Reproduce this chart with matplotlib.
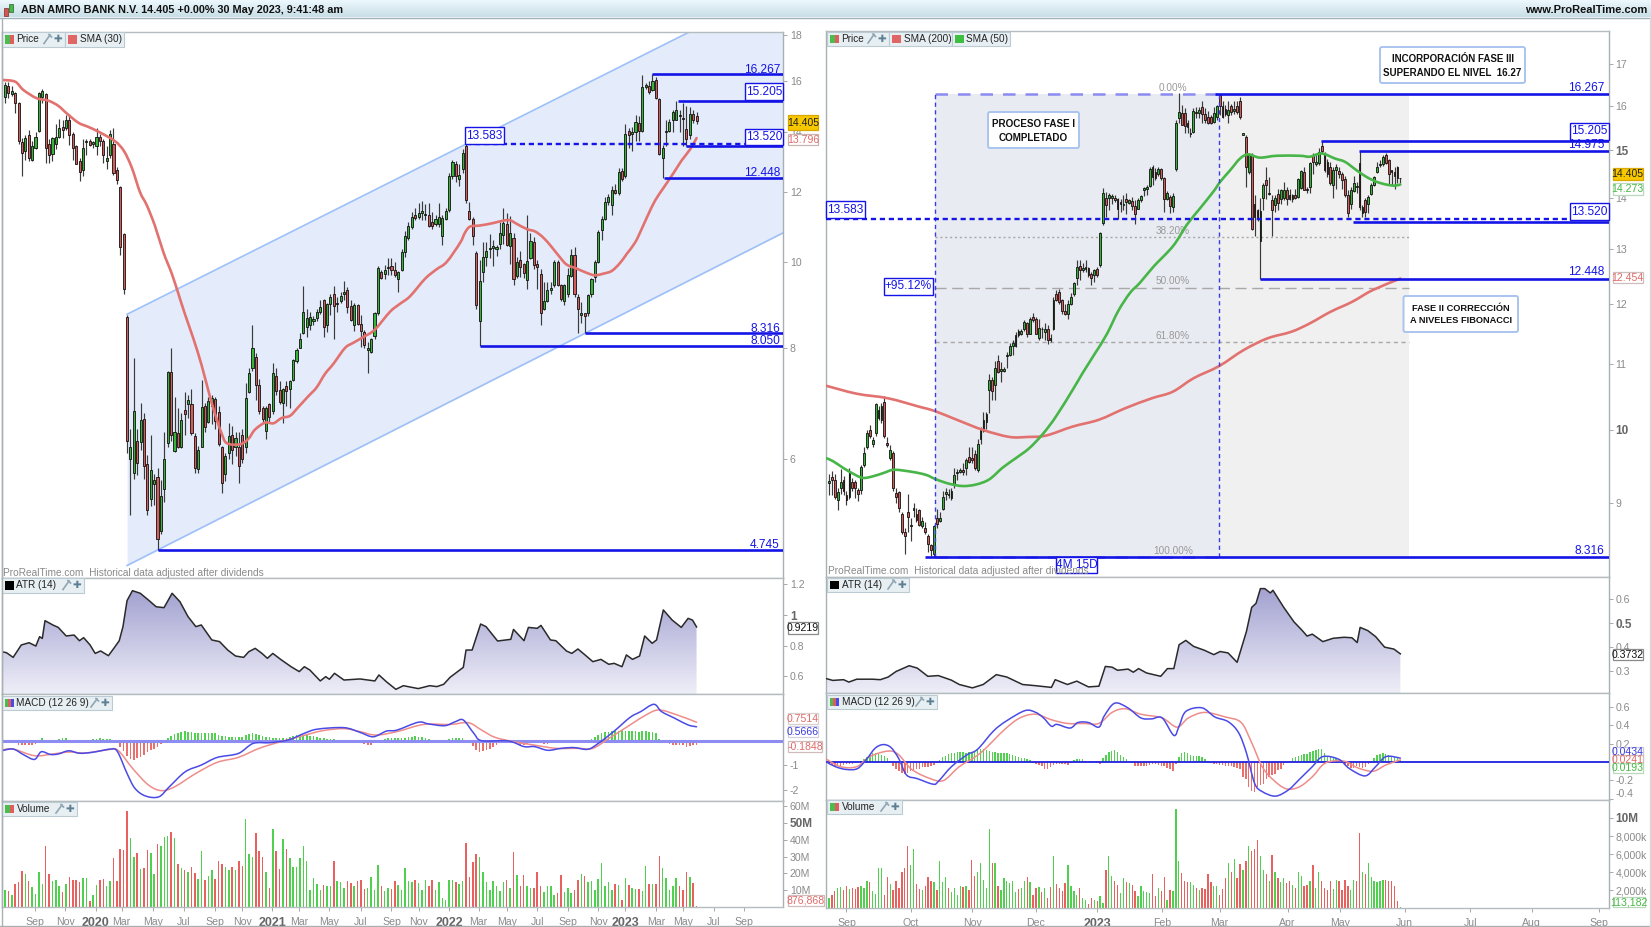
import numpy as np
import matplotlib
matplotlib.use("Agg")
import matplotlib.pyplot as plt
from matplotlib.colors import LinearSegmentedColormap
from matplotlib.patches import Rectangle, FancyBboxPatch, Polygon, PathPatch
from matplotlib.path import Path

plt.rcParams['font.family'] = ['Liberation Sans', 'DejaVu Sans']

W, H = 1651, 927

# ---------- weekly chart (left) ----------
open_w = [15.36,15.80,15.45,15.50,15.10,13.65,13.35,13.90,13.05,13.45,
 14.05,15.35,15.45,13.60,13.25,13.60,13.85,14.20,14.15,14.45,
 13.95,13.50,13.00,12.70,13.65,13.70,13.60,13.50,13.85,13.68,
 13.00,13.20,13.60,12.70,12.15,10.75,8.68,6.00,5.80,6.30,
 6.28,6.67,5.93,5.42,5.63,5.74,4.98,5.56,6.26,7.53,
 6.13,6.42,6.20,6.82,6.93,6.93,6.37,5.85,6.20,6.89,
 6.62,6.90,7.02,6.79,6.20,5.78,6.10,6.40,6.20,6.20,
 6.40,6.20,7.15,7.60,7.83,7.27,6.85,6.46,6.92,6.80,
 7.44,7.18,6.95,7.25,7.20,7.38,7.75,8.00,8.32,8.45,
 8.50,8.60,8.65,8.80,9.07,8.49,8.97,9.20,8.97,9.05,
 9.20,9.30,8.93,8.49,8.95,8.53,8.35,7.97,7.93,8.26,
 8.78,9.75,9.70,9.85,9.90,9.80,9.57,9.80,10.28,10.65,
 10.95,11.30,11.25,11.35,11.30,11.30,11.10,11.03,11.04,10.70,
 11.18,11.45,12.50,12.90,12.40,12.75,13.50,11.42,11.20,10.24,
 8.60,9.75,10.14,10.35,10.38,10.35,10.48,10.74,11.03,10.42,
 10.65,9.65,10.06,9.96,9.56,10.12,10.53,9.96,9.70,8.85,
 9.05,9.30,9.42,10.02,9.42,9.05,9.20,9.66,10.18,9.15,
 8.72,8.76,8.77,9.20,9.62,10.00,10.88,11.20,11.70,11.60,
 12.05,11.97,12.67,12.50,14.05,13.93,14.00,14.33,14.05,15.75,
 15.80,15.62,16.05,15.25,13.10,14.00,14.05,14.47,14.47,14.65,
 14.55,14.13,13.90,14.70,14.60]
high_w = [15.97,15.95,15.80,15.55,15.15,13.80,13.90,14.10,13.70,14.00,
 15.55,15.65,15.50,13.75,13.85,14.30,14.50,14.45,14.65,14.70,
 14.00,13.55,13.10,13.75,13.75,13.75,13.70,14.15,13.95,13.75,
 13.50,14.10,14.15,12.80,12.20,10.80,8.72,6.50,7.80,6.50,
 6.95,6.76,6.07,6.40,5.78,5.87,5.69,6.45,7.55,8.00,
 7.05,6.85,6.76,7.15,7.10,7.20,6.42,6.22,7.38,6.95,
 7.05,7.10,7.05,6.90,6.22,6.10,6.60,6.55,6.45,6.45,
 6.50,7.32,7.60,8.50,7.90,7.40,6.90,6.90,6.95,7.70,
 7.60,7.35,7.22,7.35,7.37,7.78,8.00,8.32,9.40,8.85,
 8.80,8.70,8.85,9.07,9.10,8.99,9.20,9.40,9.15,9.25,
 9.53,9.38,9.07,9.00,8.98,8.72,8.40,8.14,8.22,8.80,
 9.90,9.80,9.92,10.10,10.10,10.00,9.78,10.35,10.85,11.10,
 11.40,11.50,11.67,11.72,11.62,11.65,11.40,11.30,11.67,11.30,
 11.50,12.60,13.05,13.00,12.90,13.40,13.58,11.70,11.25,10.30,
 10.05,10.55,10.55,10.75,10.60,10.47,11.10,11.50,11.37,11.27,
 10.80,10.13,10.30,9.98,11.30,10.80,10.67,10.05,9.83,9.50,
 9.50,9.50,10.05,10.05,9.45,9.45,9.85,10.35,10.40,9.20,
 9.02,8.77,9.22,9.60,10.05,10.88,11.28,11.85,11.95,12.18,
 12.25,12.78,12.78,14.30,14.15,14.20,14.65,14.60,16.25,15.90,
 15.98,16.267,16.18,15.30,13.55,14.45,14.50,14.82,15.205,14.85,
 15.10,15.00,14.95,14.85,14.75]
low_w = [15.10,15.30,15.40,14.74,13.60,12.50,13.05,13.00,13.00,13.40,
 14.00,15.10,12.95,12.95,13.00,13.40,13.80,13.80,14.10,13.55,
 13.05,12.90,12.35,12.50,13.20,13.50,13.45,13.20,13.50,12.95,
 12.75,13.10,12.55,12.25,10.20,9.20,6.10,5.20,5.70,5.77,
 6.15,5.70,5.20,5.32,5.33,4.745,4.95,5.38,6.20,6.30,
 6.12,6.18,6.18,6.40,6.68,6.40,5.80,5.80,6.20,6.45,
 6.60,6.58,6.50,6.22,5.50,5.68,6.00,5.93,6.05,5.65,
 5.95,6.10,7.12,7.55,7.00,6.75,6.62,6.33,6.60,6.75,
 7.10,6.92,6.60,6.90,6.85,7.35,7.70,8.00,8.30,8.25,
 8.40,8.50,8.60,8.75,8.25,8.35,8.72,8.20,8.80,9.00,
 9.07,8.76,8.60,8.37,8.50,8.02,8.00,7.50,7.90,8.20,
 8.72,9.58,9.58,9.68,9.68,9.62,9.25,9.78,10.15,10.60,
 10.90,11.15,11.20,11.15,11.15,10.95,10.90,11.00,10.95,10.45,
 11.15,11.40,12.40,12.30,12.20,12.60,11.65,11.15,10.45,8.85,
 8.05,9.50,9.90,10.10,9.90,10.17,10.35,10.48,10.42,9.96,
 9.42,9.60,9.62,9.60,9.33,10.08,9.83,9.33,8.50,8.83,
 9.02,9.22,9.38,9.40,9.05,8.95,9.15,9.62,9.15,8.32,
 8.55,8.316,8.70,9.15,9.50,9.98,10.60,11.15,11.60,11.30,
 11.95,11.90,12.35,12.45,13.45,13.35,13.70,13.70,14.02,15.65,
 15.45,15.58,15.25,13.20,12.448,13.50,14.02,14.00,14.45,14.00,
 13.50,13.52,13.75,14.35,14.30]
close_w = [15.85,15.50,15.60,15.10,13.70,13.26,13.80,13.10,13.50,13.85,
 15.50,15.60,13.45,13.20,13.80,13.85,14.15,14.10,14.45,13.90,
 13.45,12.90,12.65,13.45,13.70,13.55,13.65,13.85,13.70,13.20,
 13.10,13.95,12.60,12.38,10.41,9.33,6.30,6.20,6.80,5.95,
 6.65,5.90,5.27,5.84,5.69,4.88,5.46,6.00,7.52,6.39,
 6.45,6.20,6.65,6.75,7.00,6.42,5.87,6.15,6.88,6.53,
 6.98,7.03,6.63,6.25,5.65,6.06,6.38,6.15,6.35,5.90,
 6.00,7.03,7.50,8.00,7.27,6.80,6.66,6.85,6.70,7.50,
 7.17,6.96,7.20,7.17,7.35,7.76,7.97,8.20,8.80,8.65,
 8.67,8.63,8.80,8.91,8.45,8.97,9.13,8.93,9.00,9.17,
 9.27,8.91,8.62,8.95,8.53,8.38,8.07,8.00,8.20,8.78,
 9.85,9.60,9.80,9.87,9.80,9.68,9.75,10.28,10.70,11.00,
 11.25,11.23,11.35,11.42,11.33,10.98,11.00,11.20,11.25,11.23,
 11.42,12.50,12.98,12.50,12.55,13.28,11.75,11.18,10.71,8.95,
 9.52,10.14,10.30,10.39,10.42,10.40,10.80,11.08,10.47,10.80,
 9.57,10.00,9.87,9.73,10.03,10.57,9.93,9.87,8.77,9.05,
 9.30,9.35,10.00,9.42,9.10,9.42,9.68,10.20,9.20,8.85,
 8.78,8.70,9.19,9.58,10.00,10.83,11.20,11.70,11.85,12.05,
 11.97,12.65,12.40,13.95,13.90,14.03,14.37,14.05,15.74,15.82,
 15.55,15.98,15.30,13.25,13.45,14.05,14.37,14.75,14.85,14.60,
 14.50,13.76,14.67,14.45,14.405]

sma30_bar = [-1,2.95,5.4,9.3,12.8,15.7,18.2,21.6,24.6,28,32.5,35.1,37.4,39.8,41.8,44.2,46.7,49.2,51.1,53.1,55.6,58,60.5,62.4,63.9,65.4,69.3,
 71.8,73.7,76.7,79.2,81.6,84.1,86.5,89.5,91.9,94.4,96.9,100.3,102.8,105.7,109.1,113.6,116.5,119.5,124,127.3,130.3,
 134.2,135.7,137.2,140.1,144,147,149,150.9,153.9,156.4,158.8,161.3,163.7,165.7,168.6,171.6,174,176.5,179,181.4,183.4,185.9,187.8,189.8,191.8,194.2,197.2,199.6,202.1,204]
sma30_val = [16.04,15.97,15.63,15.3,15.2,15.0,14.71,14.36,14.2,14.0,13.68,13.34,12.78,12.0,11.6,11.0,10.27,9.71,9.23,8.74,8.2,7.66,7.05,6.67,6.42,6.26,6.24,
 6.33,6.48,6.6,6.59,6.68,6.72,6.87,7.07,7.23,7.49,7.69,8.01,8.12,8.24,8.40,8.80,8.98,9.16,9.59,9.82,10.01,
 10.51,10.8,10.97,11.0,11.07,11.14,11.15,11.05,10.9,10.83,10.66,10.4,10.13,9.94,9.84,9.73,9.67,9.71,9.78,9.98,10.22,10.53,10.9,11.33,11.74,12.12,12.6,13.02,13.4,13.796]

atr_w_bar = [-1,.4,2.4,4.8,7.1,9.1,10.2,11,11.8,14.1,15.7,18.05,20.4,21.95,23.2,25.1,26.6,28.2,30.5,32.1,33.7,34.8,36,37.6,39.9,42.3,44.6,46.9,49.3,51.6,
 54,56.3,57.9,61,63.3,65.7,68,70.4,71.9,73.8,75.8,77.4,79,81.3,84.4,86.8,88.3,89.9,93,94.6,95.7,97.2,100,104.7,109.1,110.3,112.5,115.3,117.5,121.9,
 125.3,127.4,129.4,131.3,135.2,136,137.8,140.3,141.9,145.3,149.2,150,153.1,154.4,157,158.1,160.9,162.5,165.6,167.2,169,171.1,173.4,175.8,178.1,179.7,
 182,183.3,185.1,187.2,188.7,190.9,192.2,194.2,196.8,199.5,201.5,202.8,204]
atr_w_val = [.760,.754,.723,.804,.819,.797,.858,.847,.963,.935,.919,.863,.869,.832,.852,.804,.749,.765,.734,.782,.832,.924,1.094,1.159,1.142,1.098,1.054,1.048,1.142,1.087,
 .989,.924,.935,.837,.826,.771,.732,.723,.760,.782,.749,.717,.749,.710,.662,.630,.662,.641,.569,.597,.580,.619,.575,.582,.569,.608,.564,.514,.538,.519,
 .538,.532,.547,.593,.658,.771,.771,.941,.924,.830,.841,.906,.832,.919,.913,.932,.837,.832,.765,.749,.778,.739,.695,.710,.678,.684,
 .662,.739,.710,.732,.863,.815,.837,1.033,.967,.919,.978,.967,.9219]

macd_w_bar = [-1,2.4,5.6,8.7,10.7,13.4,15.7,18.8,22,25.9,31.3,33.2,36,38.35,41.5,45.4,48.5,53.2,57.9,62.6,68.8,73.2,78.2,83.6,88.3,92.2,100,104.7,108.6,112.5,115.6,
 121.9,125,129.7,132.8,135.2,138.3,140.6,148.4,153.1,156.2,160.1,164.1,167.9,171.9,175,179.7,184.4,187.5,191.4,193.7,197.6,201.5,204]
macd_w_val = [-.41,-.34,-.58,-.76,-.45,-.56,-.54,-.41,-.51,-.47,-.34,-.45,-1.33,-1.94,-2.25,-2.28,-1.87,-1.26,-.99,-.68,-.52,-.11,-.08,.03,.30,.47,.53,.34,.16,.39,.43,
 .75,.68,.61,.77,.84,.30,0,-.01,-.24,-.24,-.39,-.31,-.28,-.35,-.11,.39,.95,1.18,1.48,1.18,.91,.64,.5666]
signal_w_bar = [-1,2.4,8.7,14.1,18.8,23.5,29.8,33.2,37.6,42.3,46.2,50.1,56.3,62.6,68.8,75,81.3,87.5,93.8,100,104.7,109.4,115.6,123.5,131.3,136.7,140.6,144.5,150,156.2,
 162.5,168.7,173.4,178.1,184.4,189,192.9,198.4,204]
signal_w_val = [-.38,-.34,-.61,-.54,-.46,-.50,-.38,-.38,-1.12,-1.80,-2.03,-1.87,-1.33,-.88,-.68,-.31,-.04,.19,.41,.49,.37,.23,.37,.66,.66,.73,.43,.14,-.04,-.18,
 -.31,-.31,-.31,.09,.64,1.04,1.25,1.04,.7514]
hist_w = [.01,.01,-.04,-.11,-.16,-.19,-.19,-.19,-.19,-.14,.01,.11,.04,.01,.01,.04,.07,.09,.09,.04,
 .01,-.03,-.05,-.03,.01,.04,.07,.08,.09,.08,.07,.05,.03,-.04,-.24,-.41,-.61,-.75,-.77,-.70,
 -.65,-.57,-.45,-.37,-.33,-.24,-.14,-.07,.11,.20,.27,.31,.37,.38,.37,.34,.33,.31,.31,.31,
 .31,.31,.30,.22,.20,.19,.16,.15,.14,.14,.16,.24,.28,.30,.27,.23,.18,.15,.14,.12,
 .11,.11,.11,.11,.14,.19,.22,.24,.24,.22,.20,.19,.16,.12,.09,.08,.07,.05,.04,.03,
 .03,.01,-.03,-.05,-.08,-.11,-.14,-.18,-.16,-.11,-.04,.04,.07,.09,.11,.09,.09,.11,.12,.15,
 .16,.18,.16,.14,.11,.07,.04,-.03,-.04,-.03,.03,.07,.09,.09,.09,.09,.04,-.07,-.20,-.38,
 -.45,-.41,-.37,-.34,-.24,-.16,-.11,-.08,-.04,-.05,-.09,-.14,-.16,-.16,-.14,-.09,-.05,-.05,-.08,-.12,
 -.12,-.11,-.04,-.03,-.01,-.01,.01,.04,.03,-.01,.03,.04,.04,.08,.14,.24,.30,.34,.35,.38,
 .39,.41,.42,.41,.41,.39,.38,.37,.39,.38,.37,.34,.30,.07,-.04,-.11,-.15,-.16,-.18,-.18,
 -.19,-.24,-.20,-.19,-.1848]
vol_w = [10.3,9.3,7.3,13.8,14.6,21.3,19.8,15.2,11.9,7.9,
 20.9,13.8,36.4,19.6,15.2,16.2,12.6,8.7,13.8,17.8,
 16.2,15.8,15,17.2,17.2,3.4,7.3,13.2,15.8,16.6,
 12.3,15.2,29.2,15.2,34.6,34,57.3,41.3,29.6,32,
 22.5,23.1,33.8,32,19.8,37.5,36,41.9,42.5,44.3,
 40.9,25.7,23.1,22.1,21.1,23.7,20.2,16.6,33.4,16.2,
 18.6,22.1,16.6,27.5,25.7,23.7,22.1,23.5,22.1,27.1,
 24.1,52.6,31.6,29.6,43.9,33.4,30,21.1,11.3,46.4,
 33.4,22.5,40.5,34.6,29,23.5,23.5,29,36.4,27.5,
 10.3,17.2,13.8,10.3,13.2,12.3,12.3,27.1,15.2,14.6,
 11.3,15.2,14.0,12.6,15.2,16.2,10.8,11.3,17.8,10.3,
 25.1,12.6,9.3,11.3,10.7,15.2,13.2,10.3,23.1,15.2,
 14.6,15.8,14.2,10.3,15.8,12.6,15.8,10.3,14.6,5.3,
 4.3,16.2,15.8,14.6,13.8,15.2,37.9,17.8,26.9,31.6,
 29.6,20.6,14.6,10.3,15.2,12.3,9.3,14.6,15.8,11.0,
 32.4,18.8,12.3,19.2,12.3,11.3,11.3,21.1,12.3,8.7,
 12.6,12.6,7.3,8.3,19.2,8.7,11.3,8.3,10.3,16.2,
 19.8,18.2,14.6,15.2,10.3,16.8,26.1,12.3,14.6,10.3,
 13.8,13.2,4.3,17.2,13.2,11.3,10.7,10.7,9.5,24.1,
 13.8,13.8,13.8,30.4,23.1,17.2,10.3,12.3,17.2,12.3,
 10.3,21.1,17.8,14.2,.877]
ticks_w = [8.8,17.7,26.8,34.4,43.6,52.7,61.8,70,78.8,86.7,95.7,105,114,122,131,139.7,148,157,166,175,183,192,200,209,218]
labels_w = ['Sep','Nov','2020','Mar','May','Jul','Sep','Nov','2021','Mar','May','Jul','Sep','Nov','2022','Mar','May','Jul','Sep','Nov','2023','Mar','May','Jul','Sep']

# ---------- daily chart (right) ----------
open_d = [9.26,9.34,9.30,9.03,9.20,9.30,9.10,9.08,9.28,9.27,
 9.17,9.17,9.50,9.75,10.00,9.80,9.95,10.18,10.15,10.42,
 9.82,9.60,9.67,9.13,9.14,8.85,8.62,8.88,8.70,8.90,
 8.85,8.90,8.70,8.68,8.57,8.46,8.36,8.80,8.77,8.92,
 9.12,9.12,9.06,9.23,9.39,9.41,9.43,9.47,9.62,9.60,
 9.66,9.44,9.87,9.98,10.12,10.60,10.75,10.67,11.05,10.90,
 10.89,11.13,11.15,11.30,11.30,11.54,11.50,11.57,11.67,11.50,
 11.78,11.75,11.42,11.58,11.53,11.57,11.42,11.58,12.18,12.22,
 12.07,11.89,11.83,12.01,12.18,12.46,12.69,12.61,12.63,12.65,
 12.53,12.52,12.62,12.70,13.50,14.00,13.99,14.00,14.00,13.97,
 13.88,13.85,13.97,13.90,13.94,13.84,13.78,13.95,14.15,14.18,
 14.25,14.63,14.54,14.50,14.59,14.41,13.97,14.02,13.82,14.60,
 15.71,15.83,15.83,15.60,15.36,15.40,15.86,15.84,15.96,15.80,
 15.75,15.75,15.63,15.75,16.25,16.00,15.93,15.78,16.00,15.88,
 16.00,16.10,15.33,15.30,14.53,14.90,13.88,13.76,13.16,14.00,
 14.37,14.07,13.95,13.85,14.08,13.97,14.00,14.17,14.05,13.97,
 14.05,14.02,14.20,14.53,14.18,14.22,14.90,14.71,14.72,15.10,
 14.93,14.75,14.63,14.27,14.57,14.55,14.50,14.38,14.05,13.88,
 14.13,14.24,14.72,13.70,13.95,13.88,14.08,14.26,14.53,14.69,
 14.71,14.90,14.78,14.57,14.53,14.63,14.405]
high_d = [9.38,9.42,9.38,9.20,9.45,9.35,9.15,9.47,9.33,9.30,
 9.20,9.50,9.75,10.00,10.07,9.90,10.40,10.35,10.40,10.50,
 9.90,9.78,9.70,9.20,9.15,8.88,8.68,9.12,8.80,9.00,
 8.93,8.92,8.82,8.75,8.60,8.48,8.72,8.92,8.88,9.15,
 9.20,9.18,9.19,9.47,9.45,9.47,9.53,9.60,9.75,9.75,
 9.72,9.87,10.05,10.27,10.27,10.85,10.80,11.05,11.15,11.03,
 10.95,11.20,11.35,11.40,11.52,11.58,11.58,11.72,11.70,11.78,
 11.85,11.78,11.75,11.61,11.67,11.64,11.50,12.12,12.25,12.27,
 12.09,12.01,12.07,12.19,12.40,12.80,12.80,12.73,12.80,12.67,
 12.57,12.63,12.67,13.33,14.20,14.12,14.10,14.08,14.06,13.99,
 13.98,14.06,14.10,13.98,14.02,13.95,13.99,14.06,14.22,14.27,
 14.65,14.69,14.61,14.65,14.61,14.43,14.13,14.06,14.10,15.67,
 16.29,16.02,15.94,15.67,15.49,15.94,15.98,15.98,16.11,15.94,
 15.87,15.79,15.96,16.02,16.267,16.11,16.02,16.10,16.05,16.10,
 16.10,16.20,15.39,15.33,14.93,14.93,14.05,13.78,14.00,14.30,
 14.64,14.43,14.05,14.05,14.19,14.19,14.33,14.22,14.19,14.08,
 14.19,14.40,14.58,14.64,14.22,14.75,14.93,14.93,15.04,15.205,
 14.97,14.80,14.75,14.64,14.71,14.64,14.53,14.46,14.15,14.22,
 14.46,14.33,14.975,13.85,14.00,14.05,14.30,14.44,14.75,14.79,
 14.90,14.93,14.80,14.58,14.63,14.67,14.405]
low_d = [9.10,9.10,9.05,8.90,9.12,9.10,8.97,9.05,9.15,9.06,
 9.02,9.12,9.48,9.73,9.88,9.75,9.92,10.15,10.10,9.88,
 9.75,9.58,9.15,9.00,8.88,8.60,8.36,8.63,8.52,8.82,
 8.75,8.70,8.68,8.60,8.38,8.33,8.316,8.68,8.75,8.90,
 9.04,9.06,9.04,9.20,9.30,9.39,9.37,9.37,9.53,9.53,
 9.43,9.41,9.80,9.97,10.02,10.25,10.44,10.44,10.86,10.72,
 10.87,10.94,11.13,11.15,11.28,11.44,11.47,11.55,11.44,11.49,
 11.70,11.49,11.39,11.42,11.39,11.33,11.36,11.56,12.05,12.01,
 11.83,11.81,11.75,11.98,12.15,12.33,12.42,12.57,12.57,12.49,
 12.33,12.40,12.49,12.67,13.46,13.62,13.75,13.88,13.92,13.58,
 13.71,13.75,13.68,13.88,13.75,13.47,13.77,13.92,14.03,14.06,
 14.23,14.27,14.37,14.46,14.37,13.71,13.95,13.70,13.71,14.55,
 15.60,15.55,15.38,15.38,15.30,15.38,15.71,15.71,15.60,15.60,
 15.58,15.58,15.60,15.67,15.79,15.71,15.77,15.60,15.78,15.80,
 15.80,15.70,15.33,14.22,14.50,13.36,13.25,13.54,12.448,13.76,
 13.97,14.05,13.25,13.72,13.76,13.88,13.95,13.85,13.95,13.91,
 13.97,13.99,14.19,14.15,14.10,14.10,14.50,14.67,14.69,14.93,
 14.53,14.43,14.27,14.00,14.19,14.40,14.19,14.02,13.62,13.78,
 14.12,14.10,13.76,13.62,13.62,13.69,14.05,14.25,14.51,14.65,
 14.67,14.71,14.27,14.27,14.19,14.30,14.30]
close_d = [9.29,9.30,9.08,9.14,9.27,9.15,9.03,9.42,9.20,9.20,
 9.12,9.48,9.67,9.95,9.92,9.85,10.38,10.30,10.35,9.92,
 9.78,9.72,9.20,9.07,8.93,8.62,8.57,8.82,8.72,8.93,
 8.78,8.72,8.77,8.62,8.48,8.40,8.70,8.73,8.80,9.08,
 9.14,9.10,9.15,9.37,9.41,9.43,9.41,9.57,9.54,9.58,
 9.46,9.80,10.00,10.15,10.24,10.75,10.58,10.94,10.87,10.93,
 10.93,11.15,11.30,11.35,11.47,11.47,11.55,11.70,11.50,11.75,
 11.72,11.50,11.60,11.57,11.58,11.40,11.40,12.07,12.07,12.04,
 11.89,11.83,12.01,12.13,12.38,12.67,12.61,12.65,12.67,12.52,
 12.47,12.61,12.52,13.30,14.09,13.86,14.05,14.03,13.95,13.78,
 13.92,13.88,13.92,13.95,13.84,13.68,13.95,14.03,14.20,14.22,
 14.59,14.43,14.40,14.59,14.41,13.97,14.10,13.84,14.03,15.60,
 15.85,15.56,15.54,15.52,15.38,15.88,15.84,15.90,15.80,15.67,
 15.60,15.60,15.83,15.99,15.99,15.75,15.80,15.90,15.85,15.93,
 15.85,15.75,15.37,14.64,14.90,13.39,13.62,13.58,13.74,14.27,
 14.27,14.09,13.76,14.00,13.90,14.15,14.15,13.97,13.97,14.05,
 13.99,14.38,14.55,14.17,14.16,14.72,14.75,14.75,14.97,14.98,
 14.57,14.50,14.30,14.57,14.63,14.50,14.37,14.05,13.70,14.15,
 14.30,14.22,13.82,13.82,13.72,14.01,14.26,14.42,14.64,14.71,
 14.86,14.72,14.50,14.53,14.46,14.41,14.405]

sma200_bar = [-.8,9.5,20.3,31.2,36.2,43.8,52.9,61.9,68.2,74.5,83.6,92.6,101.6,110.7,117.9,125.1,133.8,142.3,150.4,158.6,164.9,172.1,179.4,186.6,196]
sma200_val = [10.66,10.54,10.47,10.34,10.28,10.15,10.0,9.9,9.9,9.92,10.05,10.15,10.32,10.47,10.57,10.78,10.97,11.23,11.42,11.53,11.67,11.87,12.04,12.25,12.454]
sma50_bar = [-1,1.3,4.7,8.1,11.5,15,19,22.4,28.7,33.3,36.7,41.3,45.9,50.4,55,59.6,64.1,68.7,73.3,77.9,83.6,87,91.2,95.3,99.3,103.3,106.7,111.3,118.1,122.7,127.3,131.9,
 134.2,137.6,141,143.8,147.8,153.5,161.5,165,169,173.6,177,181,184.4,187.8,191.3,194.1,196]
sma50_val = [9.6,9.56,9.47,9.39,9.33,9.35,9.4,9.44,9.41,9.37,9.31,9.25,9.22,9.24,9.31,9.47,9.6,9.74,9.94,10.2,10.6,10.86,11.17,11.49,11.89,12.2,12.38,12.67,13.06,13.46,13.79,14.13,
 14.33,14.57,14.82,14.91,14.84,14.88,14.88,14.86,14.93,14.82,14.75,14.57,14.43,14.33,14.27,14.25,14.273]

atr_d_bar = [-.8,1.3,5,6.8,9.5,14.9,17.6,20.3,23,27.5,30.3,33.9,37.5,42,44.7,49.2,52.9,57.4,61,66.4,70.9,76.3,77.6,81.8,85,89,92.6,94.8,97.1,99,102.6,104.4,106.2,108.9,113.8,
 116.1,118.3,120.1,122.4,125.1,128.8,132,134.2,136.9,140,143.2,145,146.5,148,149.5,151.4,152.3,155.9,159.5,162.2,164,165.8,169.4,173,176.7,179.4,181.2,182.2,184.8,187.5,190.6,193.8,196]
atr_d_val = [.270,.263,.266,.256,.268,.268,.266,.277,.300,.324,.314,.280,.283,.264,.246,.232,.246,.287,.277,.246,.241,.234,.266,.246,.260,.236,.239,.321,.318,.305,.310,.297,.312,.294,.280,
 .312,.312,.411,.429,.404,.388,.370,.383,.377,.338,.466,.566,.583,.644,.644,.626,.637,.568,.506,.472,.447,.455,.424,.438,.442,.440,.420,.483,.470,.445,.401,.393,.3732]

macd_d_bar = [-.8,2.2,5.9,9.8,13.1,15.8,18.5,21.2,23.9,26.6,30.3,35.7,37.5,42,47.4,51,56.5,61,67.3,70.9,73.6,76.3,78.2,82.7,85.4,89,92.6,94.4,98,102.5,107,110.7,114.3,118.3,120.1,
 122.4,127.9,132.4,136.9,140.5,143.2,146,148.6,153.2,157.7,161.3,165.8,169.4,174.9,178.5,183.9,187.5,191.1,196]
macd_d_val = [0,-.05,-.08,-.07,.04,.15,.19,.16,.04,-.14,-.18,-.24,-.21,-.05,.08,.14,.34,.45,.56,.54,.48,.39,.41,.37,.43,.43,.38,.50,.64,.59,.48,.47,.48,.29,.39,
 .55,.59,.49,.44,.32,.10,-.23,-.32,-.37,-.30,-.19,-.05,.06,.03,-.07,-.15,-.05,.06,.0434]
signal_d_bar = [-.8,4,9.5,14,20.3,23.9,28.4,34.8,39.3,44.7,52,60.1,65.5,70.9,76.3,81.8,87.2,92.6,97.1,101.6,107,114.3,119.4,123.3,128.8,136,141.4,145,148.6,152.3,156.8,161.3,165.8,170.3,176.7,181.2,186.6,191.1,196]
signal_d_val = [.03,-.05,-.05,.06,.12,.08,-.08,-.18,-.20,-.05,.10,.35,.48,.52,.46,.42,.42,.42,.54,.58,.52,.48,.38,.48,.54,.49,.43,.21,-.05,-.19,-.29,-.27,-.16,-.01,.01,-.06,-.10,-.03,.0241]
hist_d = [-.01,-.03,-.04,-.04,-.04,-.03,-.02,-.02,-.02,-.01,0,.01,.03,.05,.08,.10,.10,.10,.08,.07,
 .04,.01,-.04,-.07,-.10,-.12,-.13,-.12,-.10,-.09,-.08,-.07,-.05,-.05,-.05,-.04,-.03,-.01,.02,.05,
 .07,.09,.10,.10,.11,.11,.11,.10,.11,.11,.12,.13,.14,.14,.13,.12,.11,.11,.10,.10,
 .10,.10,.09,.08,.07,.06,.04,.04,.03,.02,-.01,-.02,-.03,-.04,-.07,-.07,-.05,-.03,-.02,-.02,
 -.02,-.02,-.03,-.01,.02,.03,.03,.03,.01,.01,.01,.01,.01,-.02,.04,.08,.11,.12,.13,.11,
 .08,.05,.03,.01,-.01,-.04,-.04,-.04,-.04,-.04,-.03,-.02,-.02,-.03,-.04,-.04,-.06,-.08,-.10,-.02,
 .05,.10,.11,.10,.08,.07,.07,.07,.05,.03,.01,-.01,-.02,-.02,-.03,-.03,-.04,-.04,-.04,-.05,
 -.06,-.08,-.16,-.18,-.27,-.31,-.32,-.27,-.25,-.24,-.18,-.16,-.14,-.13,-.09,-.07,-.03,-.01,.01,.04,
 .05,.07,.08,.09,.09,.11,.12,.13,.14,.14,.10,.07,.05,.04,.04,.01,-.01,-.03,-.04,-.06,
 -.06,-.04,-.05,-.06,-.05,-.02,.01,.04,.08,.09,.10,.09,.08,.07,.05,.04,.0193]
vol_d = [1.1,1.5,1.85,2.2,2.3,2.0,2.4,2.15,2.2,2.1,
 2.3,2.4,2.2,3.0,2.85,1.85,1.6,4.45,4.5,1.5,
 3.45,2.7,2.0,3.05,2.2,4.05,4.5,6.9,4.8,6.55,
 2.7,2.1,2.05,2.5,3.45,3.05,2.85,2.0,5.2,2.85,
 3.45,2.2,1.75,2.2,1.5,2.4,2.3,2.5,2.05,5.35,
 3.6,4.05,5,3.15,2.2,8.8,5.05,5.05,2.4,2,
 3.35,3,2.8,3.05,1.75,2.1,2.2,3.05,3.5,2.85,
 1.5,2.2,2.3,1.75,2.2,1.1,2.3,5.8,2.7,2.2,
 1.85,2.8,4.8,2.4,1.85,1.5,2.2,1.1,.9,.4,
 1.1,.9,.75,1.3,.55,4.25,5.8,3.6,3,2.6,
 1.65,3.35,2.85,2.8,2.6,1.85,1.3,2.4,1.85,1.75,
 1.65,3.8,1.3,2.2,1.85,3.5,.9,2,1.85,11.05,
 5.2,3.9,3,2.85,2.85,2.6,2.2,2.05,2.2,2.1,
 3.8,2.85,2.4,2.4,1.5,2.1,3.35,5.0,4.05,5.4,
 3.3,4.9,4.2,5.2,6.9,6.3,6.55,7.6,5.8,4.25,
 3.8,3.0,5.9,4.05,3.35,2.85,3.35,2.8,3,2.6,
 2.2,4.05,3.6,2.4,2.6,3,4.8,2.2,4.05,3,
 2.2,2,3,2.1,3.15,3,2,3.15,2.4,2.0,
 3.15,3.0,8.35,4.05,3.8,5.05,3.5,3,2.85,3,
 3.15,3.15,3.05,2.95,2.4,.8,.113]
ticks_d = [6,28,49.2,71,92,114.2,134,157.3,175.4,197.5,220,241,264]
labels_d = ['Sep','Oct','Nov','Dec','2023','Feb','Mar','Apr','May','Jun','Jul','Aug','Sep']

# fibonacci span and channel anchors
fib_low, fib_high = 8.316, 16.267
fib_pct = [0.382, 0.5, 0.618]
channel_up_bar, channel_up_price = [36, 136], [8.74, 13.583]
channel_dn_bar, channel_dn_price = [45, 171], [4.745, 8.316]

BLUE = '#1414e6'
TICK = '#8a8a8a'

fig = plt.figure(figsize=(W / 100, H / 100), dpi=100, facecolor='white')


def panel(x0, y0, x1, y1):
    ax = fig.add_axes([x0 / W, 1 - y1 / H, (x1 - x0) / W, (y1 - y0) / H])
    ax.set_facecolor('white')
    for name, col in [('top', '#b4bcc0'), ('bottom', '#b4bcc0'), ('left', '#a8b0b4'), ('right', '#a8b0b4')]:
        ax.spines[name].set_color(col)
        ax.spines[name].set_linewidth(1.0)
    ax.set_xticks([])
    ax.yaxis.tick_right()
    ax.tick_params(axis='y', which='both', length=3, width=.6, color='#999', labelcolor=TICK, labelsize=7.6, pad=2)
    return ax


def yticks(ax, vals, labels, bold=()):
    ax.set_yticks(vals)
    ax.set_yticklabels(labels)
    ax.minorticks_off()
    for t, lab in zip(ax.get_yticklabels(), labels):
        if lab in bold:
            t.set_fontweight('bold')
            t.set_color('#666')
            t.set_fontsize(8.5)


def smooth_line(ax, xs, ys, color, lw, zorder):
    # Catmull-Rom curve through the read points, so the averages draw without corners
    P = np.column_stack([xs, ys])
    verts, codes = [P[0]], [Path.MOVETO]
    for i in range(len(P) - 1):
        p0 = P[max(i - 1, 0)]
        p1, p2 = P[i], P[i + 1]
        p3 = P[min(i + 2, len(P) - 1)]
        verts += [p1 + (p2 - p0) / 6, p2 - (p3 - p1) / 6, p2]
        codes += [Path.CURVE4] * 3
    ax.add_patch(PathPatch(Path(verts, codes), fc='none', ec=color, lw=lw, zorder=zorder, capstyle='round'))


def candles(ax, o, h, l, c, width):
    o, h, l, c = map(np.array, (o, h, l, c))
    x = np.arange(len(o))
    ax.vlines(x, l, h, color='#3a3a3a', lw=.85, zorder=3)
    up = c >= o
    ax.bar(x, np.abs(c - o), bottom=np.minimum(o, c), width=width,
           color=np.where(up, '#37b337', '#d65c5a'), edgecolor='#101010', linewidth=.6, zorder=4)


def atr_area(ax, bars, vals, last):
    cmap = LinearSegmentedColormap.from_list('atr', ['#eeeef8', '#a3a2d1'])
    xl, yl = ax.get_xlim(), ax.get_ylim()
    top = max(vals)
    im = ax.imshow(np.linspace(1, 0, 64).reshape(-1, 1), extent=(bars[0], last, yl[0], top),
                   cmap=cmap, aspect='auto', zorder=1)
    poly = Polygon(list(zip([bars[0]] + bars + [last], [yl[0]] + vals + [yl[0]])), closed=True,
                   transform=ax.transData, fc='none', ec='none')
    ax.add_patch(poly)
    im.set_clip_path(poly)
    ax.plot(bars, vals, color='#2a2a2a', lw=1.1, zorder=3)
    ax.set_xlim(xl)
    ax.set_ylim(yl)


def macd_panel(ax, hist, mb, mv, sb, sv, zero_color, zero_lw):
    x = np.arange(len(hist))
    h = np.array(hist)
    ax.bar(x, h, width=.5, color=np.where(h >= 0, '#52d052', '#ea6f6d'), linewidth=0, zorder=2)
    ax.axhline(0, color=zero_color, lw=zero_lw, zorder=3)
    smooth_line(ax, sb, sv, '#ee8d8a', 1.1, 4)
    smooth_line(ax, mb, mv, '#4a4ae6', 1.1, 5)


def volume_panel(ax, vol, o, c, ticks, labels, years):
    x = np.arange(len(vol))
    up = np.array(c) >= np.array(o)
    ax.bar(x, vol, width=.45, color=np.where(up, '#4fd04f', '#e8615f'), linewidth=0, zorder=2)
    ax.set_xticks(ticks)
    ax.set_xticklabels(labels)
    ax.tick_params(axis='x', length=3, width=.6, color='#999', labelcolor=TICK, labelsize=7.6, pad=4)
    for t, lab in zip(ax.get_xticklabels(), labels):
        if lab in years:
            t.set_fontweight('bold')
            t.set_color('#666')
            t.set_fontsize(9)


def bar_x(x, origin, step):
    return (x - origin) / step


def log_line(bars, prices, at):
    # straight line in log price through two anchors
    slope = (np.log(prices[1]) - np.log(prices[0])) / (bars[1] - bars[0])
    return np.exp(np.log(prices[0]) + slope * (np.array(at) - bars[0]))


# ----- left panels -----
x_w = (bar_x(2, 5, 3.39), bar_x(783, 5, 3.39))
pw = panel(2, 32, 783, 578)
pw.set_yscale('log')
pw.set_xlim(x_w)
pw.set_ylim(10 * np.exp((262.3 - 578) / 386), 10 * np.exp((262.3 - 32) / 386))
yticks(pw, [6, 8, 10, 12, 14, 16, 18], ['6', '8', '10', '12', '14', '16', '18'])

ends = [36, x_w[1]]
up_line = log_line(channel_up_bar, channel_up_price, ends)
dn_line = log_line(channel_dn_bar, channel_dn_price, ends)
pw.fill_between(ends, dn_line, up_line, color='#e4ebfb', lw=0, zorder=1)
pw.plot(ends, up_line, color='#9cc0f7', lw=1.2, zorder=2)
pw.plot(ends, dn_line, color='#9cc0f7', lw=1.2, zorder=2)
candles(pw, open_w, high_w, low_w, close_w, .62)
smooth_line(pw, sma30_bar, sma30_val, '#e2726f', 1.9, 5)
for level, start in [(16.267, 191), (15.205, 198.4), (13.52, 201), (12.448, 194.4), (8.316, 171), (8.05, 140), (4.745, 45)]:
    pw.plot([start, x_w[1]], [level, level], color=BLUE, lw=1.9, zorder=6, solid_capstyle='butt')
pw.plot([136, x_w[1]], [13.583, 13.583], color=BLUE, lw=1.7, ls=(0, (2.2, 1.6)), zorder=6)

aw = panel(2, 578, 783, 694)
aw.set_xlim(x_w)
aw.set_ylim(1 - (694 - 615) / 153, 1 - (578 - 615) / 153)
yticks(aw, [.6, .8, 1, 1.2], ['0.6', '0.8', '1', '1.2'], bold=('1',))
atr_area(aw, atr_w_bar, atr_w_val, 204)

mw = panel(2, 694, 783, 801)
mw.set_xlim(x_w)
mw.set_ylim((740.7 - 801) / 24.6, (740.7 - 694) / 24.6)
yticks(mw, [-2, -1], ['-2', '-1'])
macd_panel(mw, hist_w, macd_w_bar, macd_w_val, signal_w_bar, signal_w_val, '#8c8cf2', 2.2)

vw = panel(2, 801, 783, 907)
vw.set_xlim(x_w)
vw.set_ylim(0, (907.3 - 801) / 1.687)
yticks(vw, [10, 20, 30, 40, 50, 60], ['10M', '20M', '30M', '40M', '50M', '60M'], bold=('50M',))
volume_panel(vw, vol_w, open_w, close_w, ticks_w, labels_w, ('2020', '2021', '2022', '2023'))

# ----- right panels -----
x_d = (bar_x(826, 829, 2.915), bar_x(1608.5, 829, 2.915))
pd_ = panel(826, 31, 1608.5, 577)
pd_.set_yscale('log')
pd_.set_xlim(x_d)
pd_.set_ylim(10 * np.exp((430 - 577) / 690), 10 * np.exp((430 - 31) / 690))
yticks(pd_, [9, 10, 11, 12, 13, 14, 15, 16, 17], ['9', '10', '11', '12', '13', '14', '15', '16', '17'], bold=('10', '15'))

fib_a, fib_b, fib_c = 36.2, 133.8, bar_x(1408.8, 829, 2.915)
fib_label_x = bar_x(1173, 829, 2.915)
pd_.fill_between([fib_a, fib_b], fib_low, fib_high, color='#e9ebf2', lw=0, zorder=1)
pd_.fill_between([fib_b, fib_c], fib_low, fib_high, color='#f0f0f0', lw=0, zorder=1)
for pct, style in zip(fib_pct, [(0, (1.5, 2)), (0, (8, 4)), (0, (3, 2.5))]):
    level = fib_high - pct * (fib_high - fib_low)
    pd_.plot([fib_a, fib_c], [level, level], color='#a8a8a8', lw=1, ls=style, zorder=2)
for pct in [0] + fib_pct + [1]:
    level = fib_high - pct * (fib_high - fib_low)
    pd_.annotate(f'{pct * 100:.2f}%', (fib_label_x, level), xytext=(0, 4.5), textcoords='offset points',
                 color='#9a9a9a', fontsize=7.2, ha='center', va='center', zorder=2)

candles(pd_, open_d, high_d, low_d, close_d, .62)
smooth_line(pd_, sma200_bar, sma200_val, '#e2726f', 1.9, 5)
smooth_line(pd_, sma50_bar, sma50_val, '#48b548', 1.9, 5)
pd_.plot([fib_a, fib_b], [fib_high, fib_high], color='#8a8af0', lw=1.8, ls=(0, (5, 4)), zorder=6)
pd_.plot([fib_a, fib_b], [fib_low, fib_low], color='#8a8af0', lw=1.8, ls=(0, (5, 4)), zorder=6)
for xv in (fib_a, fib_b):
    pd_.plot([xv, xv], [fib_low, fib_high], color='#3a3ae8', lw=1, ls=(0, (3, 2.5)), zorder=6)
for level, start in [(16.267, 132.4), (15.205, 168.8), (14.975, 181.9), (13.52, 179.8), (12.448, 147.9), (8.316, 33)]:
    pd_.plot([start, x_d[1]], [level, level], color=BLUE, lw=1.9, zorder=6, solid_capstyle='butt')
pd_.plot([x_d[0], bar_x(1569, 829, 2.915)], [13.583, 13.583], color=BLUE, lw=1.7, ls=(0, (2.2, 1.6)), zorder=6)

ad = panel(826, 577, 1608.5, 693)
ad.set_xlim(x_d)
ad.set_ylim(.6 - (370 - 87) / 727, .6 - (20 - 87) / 727)
yticks(ad, [.3, .4, .5, .6], ['0.3', '0.4', '0.5', '0.6'], bold=('0.5',))
atr_area(ad, atr_d_bar, atr_d_val, 196)

md = panel(826, 693, 1608.5, 799.5)
md.set_xlim(x_d)
md.set_ylim((577 - 688) / 273, (577 - 372) / 273)
yticks(md, [-.4, -.2, .2, .4, .6], ['-0.4', '-0.2', '0.2', '0.4', '0.6'])
md.get_yticklabels()[0].set_va('bottom')
macd_panel(md, hist_d, macd_d_bar, macd_d_val, signal_d_bar, signal_d_val, '#2020e0', 1.3)

vd = panel(826, 799.5, 1608.5, 908)
vd.set_xlim(x_d)
vd.set_ylim(0, (908 - 799.5) / 9)
yticks(vd, [2, 4, 6, 8, 10], ['2,000k', '4,000k', '6,000k', '8,000k', '10M'], bold=('10M',))
volume_panel(vd, vol_d, open_d, close_d, ticks_d, labels_d, ('2023',))

# ----- overlay in pixel space: header, legends, tags -----
ov = fig.add_axes([0, 0, 1, 1], zorder=30)
ov.patch.set_alpha(0)
ov.axis('off')
bar_cmap = LinearSegmentedColormap.from_list('bar', ['#ecf8fd', '#c9dee6'])
ov.imshow(np.linspace(0, 1, 32).reshape(-1, 1), extent=(0, W, 17, 0), cmap=bar_cmap, aspect='auto')
ov.set_xlim(0, W)
ov.set_ylim(H, 0)
ov.plot([0, W], [17.5, 17.5], color='#9fb2ba', lw=1)
ov.plot([1.5, 1.5], [18, 926], color='#a8b0b4', lw=1)
ov.plot([0, W], [926, 926], color='#a8b0b4', lw=1)
ov.plot([1649.5, 1649.5], [18, 926], color='#d5dadc', lw=1)

# little two-candle logo
ov.add_patch(Rectangle((4, 8), 4, 8, fc='#d9534f', ec='#703030', lw=.5))
ov.add_patch(Rectangle((9, 4), 4, 8, fc='#45b945', ec='#306030', lw=.5))
ov.text(21, 9.5, 'ABN AMRO BANK N.V. 14.405 +0.00% 30 May 2023, 9:41:48 am', fontsize=7.8, fontweight='bold', color='#111', va='center')
ov.text(1647, 9.5, 'www.ProRealTime.com', fontsize=8, fontweight='bold', color='#111', va='center', ha='right')


def legend(x, y, h, items):
    for label, x_end, swatch, tools in items:
        ov.add_patch(Rectangle((x, y), x_end - x, h, fc='#e7eff3', ec='#bccbd2', lw=.8))
        if swatch == 'gr':
            ov.add_patch(Rectangle((x + 3, y + 3), 4.5, h - 6, fc='#4dbb4d', ec='none'))
            ov.add_patch(Rectangle((x + 7.5, y + 3), 4.5, h - 6, fc='#dd5f5d', ec='none'))
        elif swatch == 'rgb':
            ov.add_patch(Rectangle((x + 3, y + 3), 3, h - 6, fc='#4dbb4d', ec='none'))
            ov.add_patch(Rectangle((x + 6, y + 3), 3, h - 6, fc='#dd5f5d', ec='none'))
            ov.add_patch(Rectangle((x + 9, y + 3), 3, h - 6, fc='#4a4ae6', ec='none'))
        else:
            ov.add_patch(Rectangle((x + 3, y + 3), 9, h - 6, fc=swatch, ec='none'))
        ov.text(x + 14.5, y + h / 2, label, fontsize=7.2, color='#222', va='center')
        if tools:
            tx = x_end - 21
            ov.plot([tx, tx + 6], [y + h - 3, y + 3], color='#8fa6b3', lw=1.2)
            ov.plot([tx + 5, tx + 7.5], [y + 2.5, y + 5], color='#8fa6b3', lw=1.2)
            ov.text(x_end - 7, y + h / 2, '\u271a', fontsize=7.5, color='#5d7f93', va='center', ha='center', family='DejaVu Sans')
        x = x_end


legend(2, 32, 14.5, [('Price', 65, 'gr', True), ('SMA (30)', 124, '#df6664', False)])
legend(2, 578, 14.5, [('ATR (14)', 84, 'black', True)])
legend(2, 696, 14, [('MACD (12 26 9)', 112, 'rgb', True)])
legend(2, 802, 14, [('Volume', 77, 'gr', True)])
legend(827, 31.5, 14.5, [('Price', 889, 'gr', True), ('SMA (200)', 952, '#df6664', False), ('SMA (50)', 1010, '#3fbf3f', False)])
legend(827, 577.5, 14.5, [('ATR (14)', 909, 'black', True)])
legend(827, 695, 14, [('MACD (12 26 9)', 937, 'rgb', True)])
legend(827, 800, 14, [('Volume', 902, 'gr', True)])


def tag(x0, x1, y0, y1, text, color, ec, fc='white', size=7.6):
    ov.add_patch(Rectangle((x0, y0), x1 - x0, y1 - y0, fc=fc, ec=ec, lw=.9))
    ov.text((x0 + x1) / 2, (y0 + y1) / 2 + .3, text, color=color, fontsize=size, ha='center', va='center')


# last-value tags on the left scales
tag(788, 818, 115, 130, '14.405', '#222', '#d8a800', fc='#f7c800')
tag(788, 818, 134, 145, '13.796', '#e06a68', '#c9b4b4')
tag(788, 818, 621.7, 634, '0.9219', '#111', '#8a8a8a')
tag(788, 818, 713, 724, '0.7514', '#e06a68', '#d9d0d0')
tag(788, 818, 726, 737, '0.5666', '#3a3ae0', '#d0d0e0')
tag(788, 822, 741, 752, '-0.1848', '#e06a68', '#cfbcbc')
tag(788, 824, 895, 906, '876,868', '#e06a68', '#cfbcbc')
# last-value tags on the right scales
tag(1612.5, 1643, 168, 180, '14.405', '#222', '#d8a800', fc='#f7c800')
tag(1612.5, 1643, 183, 195, '14.273', '#45b945', '#bcd8bc')
tag(1612.5, 1643, 272, 283, '12.454', '#e06a68', '#cfbcbc')
tag(1612.5, 1643, 649, 660, '0.3732', '#111', '#8a8a8a')
tag(1612.5, 1643, 746.5, 757, '0.0434', '#3a3ae0', '#c8c8dc')
tag(1612.5, 1643, 755, 764, '0.0241', '#e06a68', '#cfbcbc')
tag(1612.5, 1643, 762.5, 773, '0.0193', '#45b945', '#bcd8bc')
tag(1612.5, 1645, 897, 907, '113,182', '#45b945', '#bcd8bc')


def level_text(xr, y, text):
    ov.text(xr, y + 1.5, text, color=BLUE, fontsize=8.6, ha='right', va='center')


def level_box(x0, x1, y0, y1, text):
    ov.add_patch(Rectangle((x0, y0), x1 - x0, y1 - y0, fc='white', ec=BLUE, lw=1))
    ov.text((x0 + x1) / 2, (y0 + y1) / 2 + .3, text, color=BLUE, fontsize=8.6, ha='center', va='center')


level_text(780, 68, '16.267')
level_text(780, 171, '12.448')
level_text(780, 327, '8.316')
level_text(780, 339.5, '8.050')
level_text(780, 543, '4.745')
level_box(745, 783, 82.5, 100, '15.205')
level_box(745, 783, 128.5, 145, '13.520')
level_box(465, 504, 126.5, 144, '13.583')

level_text(1604, 86, '16.267')
level_text(1604, 143, '14.975')
level_text(1604, 270.5, '12.448')
level_text(1604, 549, '8.316')
level_box(1569.5, 1608.5, 122.5, 139.5, '15.205')
level_box(1569.5, 1608.5, 203, 220, '13.520')
level_box(826, 865, 200.5, 218, '13.583')
level_box(884, 932.5, 277.5, 294.5, '+95.12%')
level_box(1056, 1097, 557, 573, '4M 15D')


def note(x0, x1, y0, y1, text, size):
    ov.add_patch(FancyBboxPatch((x0 + 2, y0 + 2), x1 - x0 - 4, y1 - y0 - 4, boxstyle='round,pad=2,rounding_size=2',
                                fc='white', ec='#a9c4ee', lw=1.4))
    ov.text((x0 + x1) / 2, (y0 + y1) / 2 + .5, text, color='#111', fontsize=size, fontweight='bold',
            ha='center', va='center', linespacing=1.5)


note(988, 1079, 112, 148, 'PROCESO FASE I\nCOMPLETADO', 7.1)
note(1380, 1525, 47, 83, 'INCORPORACIÓN FASE III\nSUPERANDO EL NIVEL  16.27', 7.0)
note(1403.5, 1518, 296, 332, 'FASE II CORRECCIÓN\nA NIVELES FIBONACCI', 6.7)

ov.text(3, 573, 'ProRealTime.com  Historical data adjusted after dividends', color='#8a8a8a', fontsize=7.3, va='center')
ov.text(828, 571.5, 'ProRealTime.com  Historical data adjusted after dividends', color='#8a8a8a', fontsize=7.3, va='center')

fig.savefig('out.png', dpi=100, facecolor='white')
